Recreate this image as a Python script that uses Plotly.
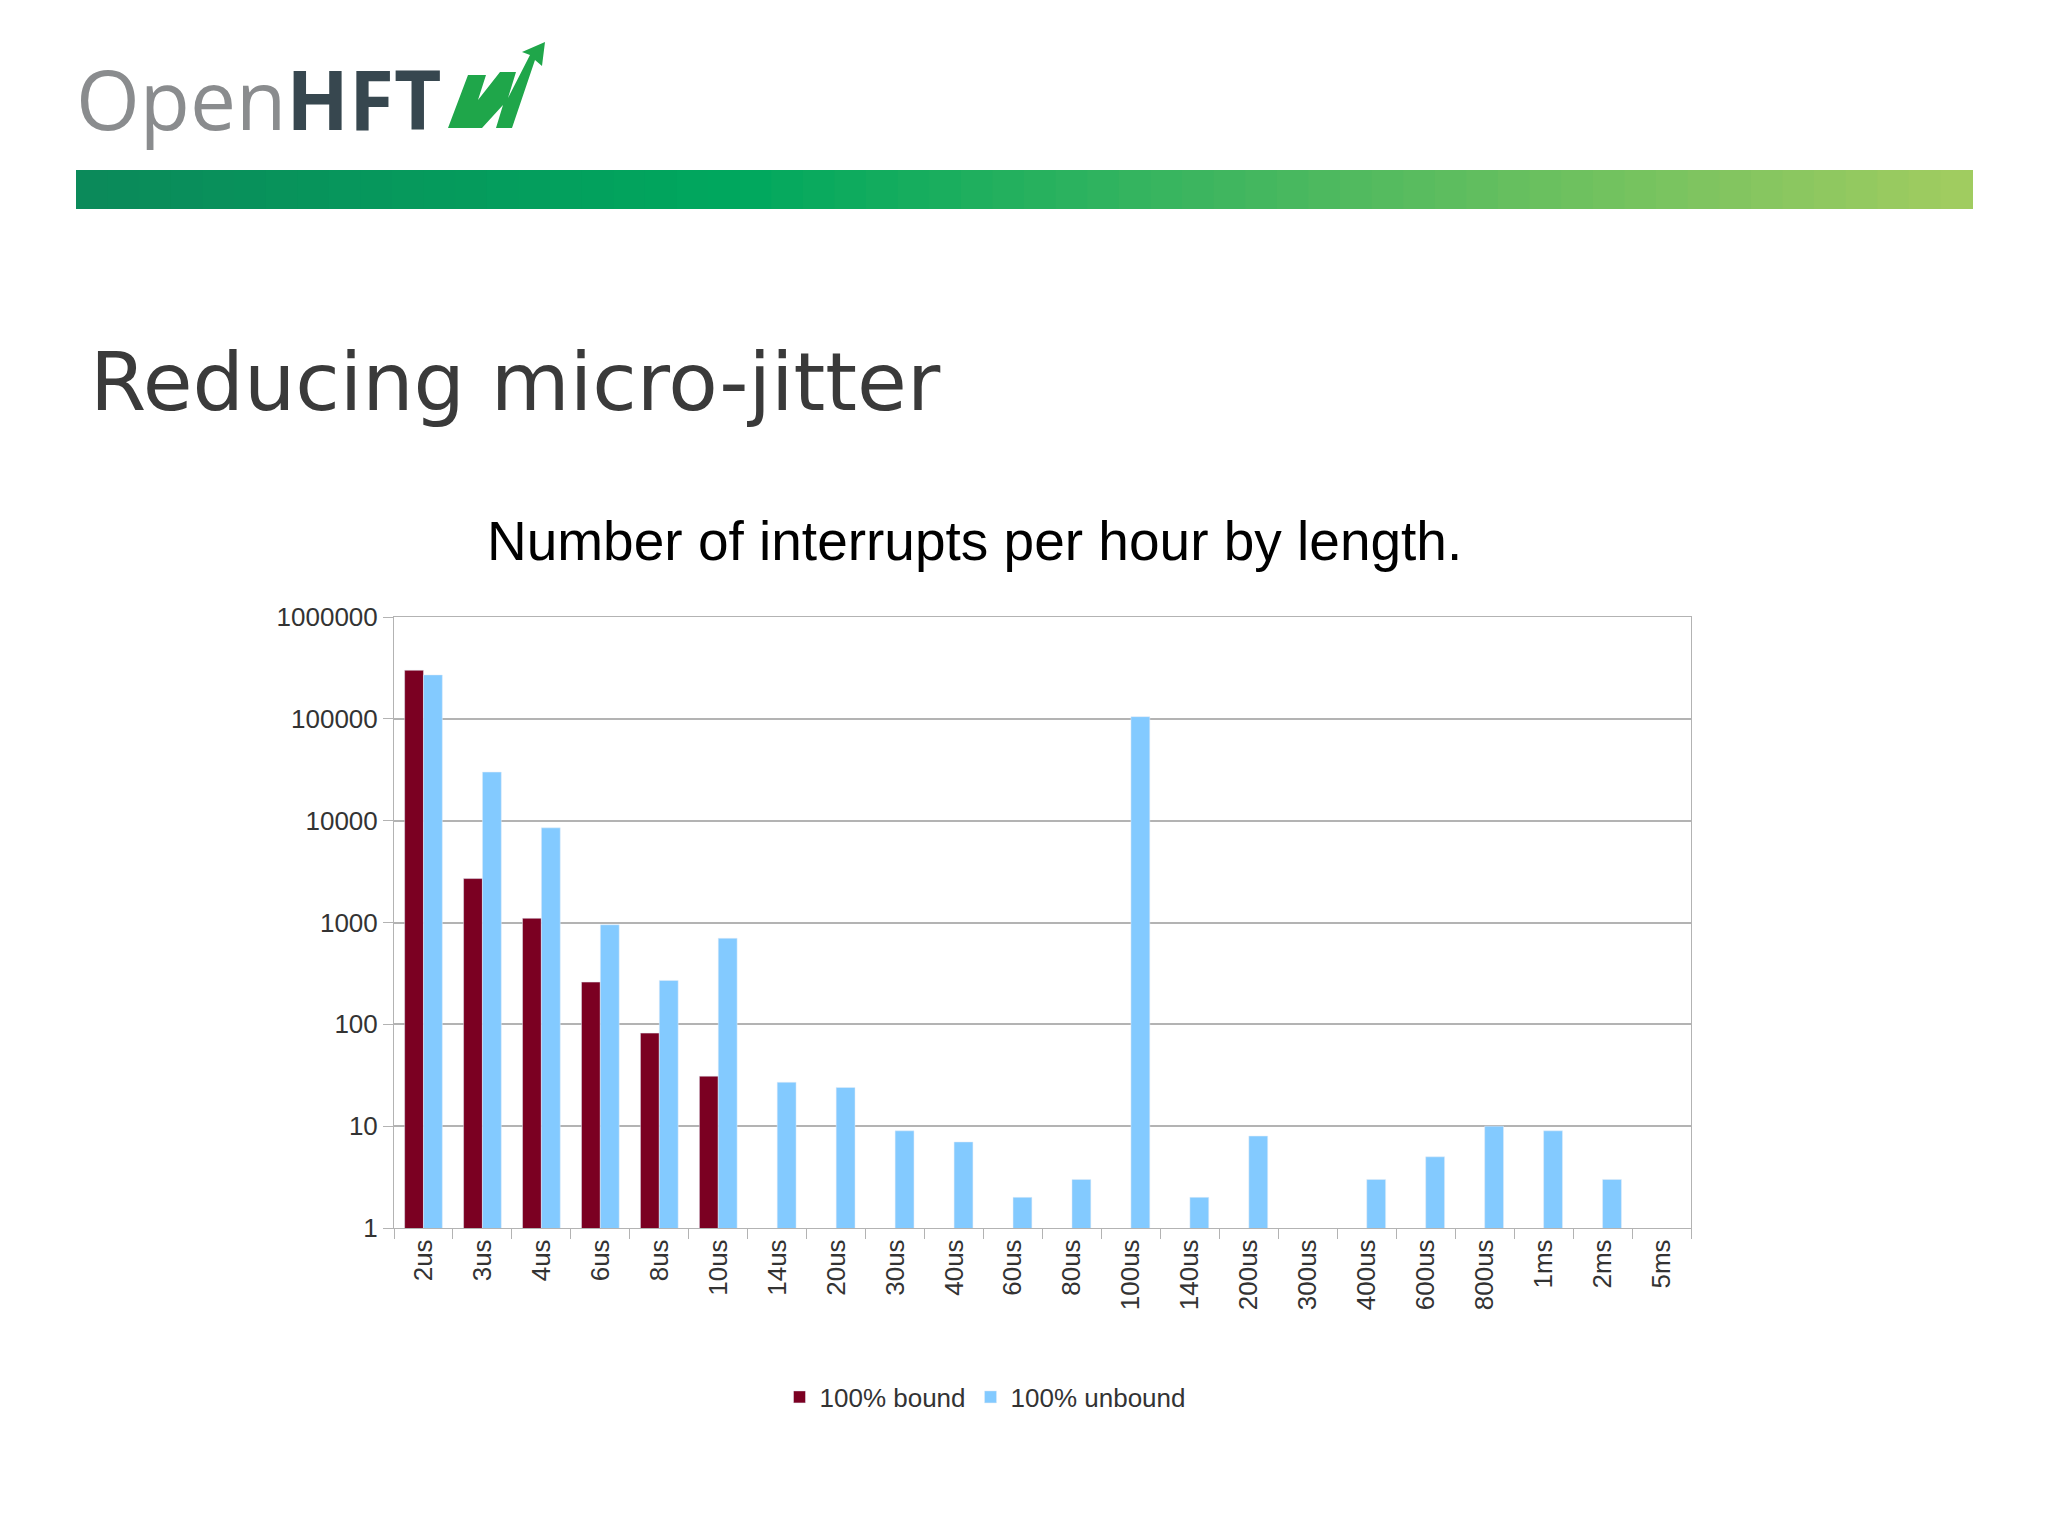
import plotly.graph_objects as go

# data
categories = ["2us", "3us", "4us", "6us", "8us", "10us", "14us", "20us", "30us", "40us",
              "60us", "80us", "100us", "140us", "200us", "300us", "400us", "600us",
              "800us", "1ms", "2ms", "5ms"]
bound = [300000, 2700, 1100, 260, 82, 31] + [None] * 16
unbound = [270000, 30000, 8500, 950, 270, 700, 27, 24, 9, 7, 2, 3, 105000, 2, 8,
           None, 3, 5, 10, 9, 3, None]
y_ticks = [1, 10, 100, 1000, 10000, 100000, 1000000]

W, H = 2048, 1536
L, R, T, B = 386, 1683, 609, 1220


def px(x):
    return (x - L) / (R - L)


def py(y):
    return (B - y) / (B - T)


fig = go.Figure()
fig.add_trace(go.Bar(x=categories, y=bound, name="100% bound", marker_color="#7b0022"))
fig.add_trace(go.Bar(x=categories, y=unbound, name="100% unbound", marker_color="#83caff"))

# green gradient band
c0, c1, c2 = (0x0b, 0x8a, 0x5a), (0x00, 0xa8, 0x5e), (0xa0, 0xcc, 0x60)
n = 60
bx0, bx1 = 68, 1964
shapes = []
for i in range(n):
    t = i / (n - 1)
    if t < 0.35:
        u = t / 0.35
        c = [round(a + (b - a) * u) for a, b in zip(c0, c1)]
    else:
        u = (t - 0.35) / 0.65
        c = [round(a + (b - a) * u) for a, b in zip(c1, c2)]
    x0 = bx0 + (bx1 - bx0) * i / n
    x1 = bx0 + (bx1 - bx0) * (i + 1) / n + 1
    shapes.append(dict(type="rect", xref="paper", yref="paper", x0=px(x0), x1=px(x1),
                       y0=py(201), y1=py(162), line_width=0,
                       fillcolor="rgb(%d,%d,%d)" % tuple(c)))

# logo swoosh
pts = [(440, 120), (460, 67), (478, 67), (470, 92), (492, 64), (508, 64), (500, 90),
       (522, 47), (514, 44), (537, 34), (534, 58), (527, 52), (504, 120), (488, 120),
       (495, 97), (474, 120)]
path = "M " + " L ".join("%f,%f" % (px(a), py(b)) for a, b in pts) + " Z"
shapes.append(dict(type="path", xref="paper", yref="paper", path=path,
                   fillcolor="#1fa64a", line_width=0))

annotations = [
    dict(text='Open<b><span style="color:#37474f">HFT</span></b>', x=px(66), y=py(90),
         xref="paper", yref="paper", xanchor="left", yanchor="middle", showarrow=False,
         font=dict(family="Open Sans", size=82, color="#8a8c8e")),
    dict(text="Reducing micro-jitter", x=px(80), y=py(374), xref="paper", yref="paper",
         xanchor="left", yanchor="middle", showarrow=False,
         font=dict(family="DejaVu Sans", size=81, color="#3a3a3a")),
    dict(text="Number of interrupts per hour by length.", x=px(966), y=py(533),
         xref="paper", yref="paper", xanchor="center", yanchor="middle", showarrow=False,
         font=dict(family="Liberation Sans", size=55, color="#000000")),
]

fig.update_layout(
    width=W, height=H,
    margin=dict(l=L, r=W - R, t=T, b=H - B),
    paper_bgcolor="white", plot_bgcolor="white",
    barmode="group", bargap=0.36, bargroupgap=0,
    shapes=shapes, annotations=annotations,
    font=dict(family="Liberation Sans", color="#333333"),
    legend=dict(orientation="h", x=px(977), xanchor="center", y=py(1389), yanchor="middle",
                font=dict(size=26, color="#333333"), itemwidth=30),
)

fig.update_xaxes(tickangle=-90, tickfont=dict(size=26, color="#333333"),
                 ticks="outside", tickson="boundaries", ticklen=10, tickcolor="#b3b3b3",
                 showline=True, linecolor="#b3b3b3", mirror=True, showgrid=False)
fig.update_yaxes(type="log", range=[0, 6], tickvals=y_ticks,
                 ticktext=[str(v) for v in y_ticks], tickfont=dict(size=26, color="#333333"),
                 ticks="outside", ticklen=10, tickcolor="#b3b3b3",
                 showline=True, linecolor="#b3b3b3", mirror=True,
                 gridcolor="#b3b3b3", gridwidth=1.5, zeroline=False)

fig.write_html("out.html")
